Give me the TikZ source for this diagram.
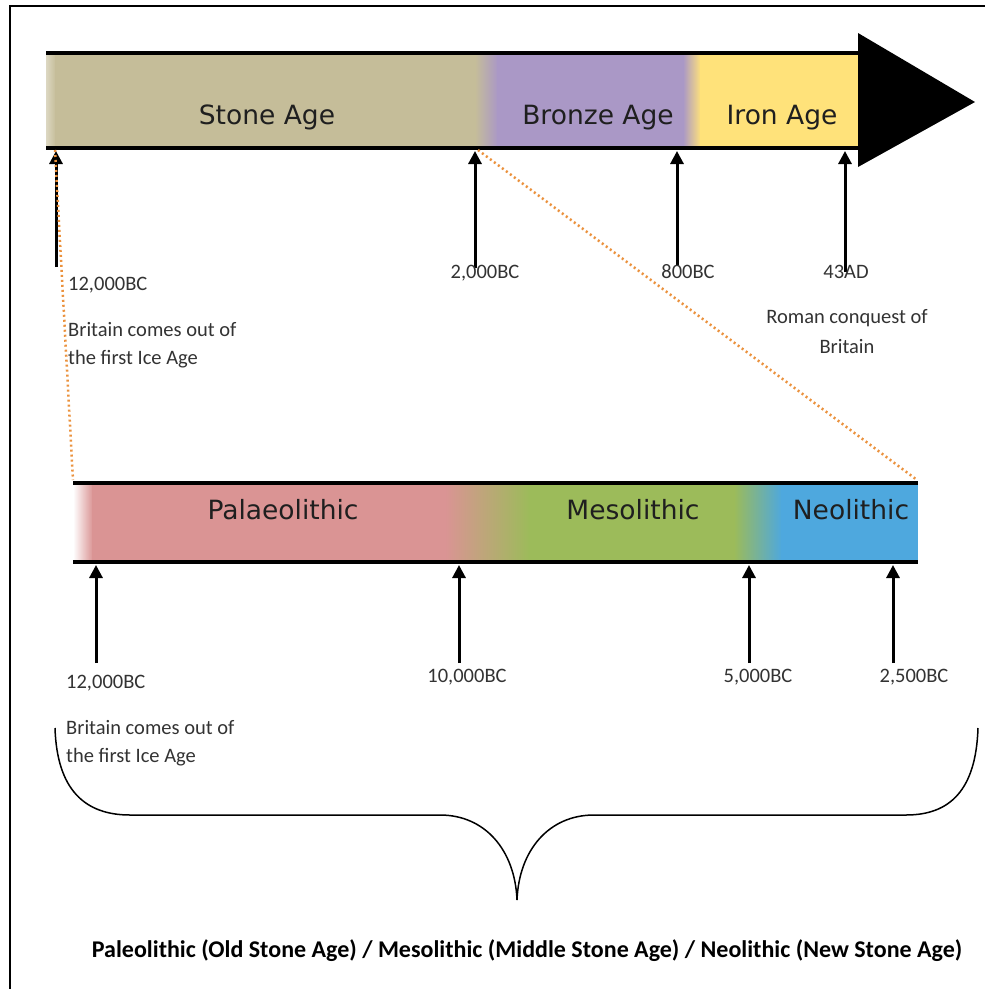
\documentclass[tikz,border=0pt]{standalone}
\usepackage{fontspec}
\setmainfont{DejaVu Sans}
\newfontfamily\calfont{Carlito}
\usetikzlibrary{arrows.meta}
\definecolor{stonec}{RGB}{197,189,153}
\definecolor{bronzec}{RGB}{170,152,198}
\definecolor{ironc}{RGB}{255,226,122}
\definecolor{palc}{RGB}{218,148,148}
\definecolor{mesoc}{RGB}{156,187,90}
\definecolor{neoc}{RGB}{78,168,222}
\definecolor{dotc}{RGB}{235,145,60}
\tikzset{
  barlabel/.style={font=\fontsize{26.5}{30}\selectfont, text=black!88, anchor=base, inner sep=0pt},
  smalllab/.style={font=\calfont\fontsize{20.5}{28}\selectfont, text=black!80, inner sep=0pt},
  uparrow/.style={line width=3pt, -{Triangle[width=13pt,length=13pt]}},
  zoomline/.style={draw=dotc, line width=2.5pt, dash pattern=on 2pt off 3pt},
  baredge/.style={line width=4pt},
  bracepath/.style={line width=1.5pt},
}
\begin{document}
\begin{tikzpicture}[x=1pt,y=-1pt]
\useasboundingbox (0,0) rectangle (985,989);
\fill[white] (0,0) rectangle (985,989);
% frame
\draw[line width=2pt] (10,989) -- (10,6) -- (985,6);

% ---- top bar ----
\shade[left color=stonec!60!white, right color=stonec] (46,53) rectangle (56,148);
\fill[stonec] (55,53) rectangle (476,148);
\shade[left color=stonec, right color=bronzec] (475,53) rectangle (498,148);
\fill[bronzec] (497,53) rectangle (684,148);
\shade[left color=bronzec, right color=ironc] (683,53) rectangle (701,148);
\fill[ironc] (700,53) rectangle (858,148);
\draw[baredge] (46,53) -- (858,53);
\draw[baredge] (46,148) -- (858,148);
\fill (858,33) -- (975,102) -- (858,167) -- cycle;

\node[barlabel] (stone) at (267,124) {Stone Age};
\node[barlabel] (bronze) at (598,124) {Bronze Age};
\node[barlabel] (iron) at (782,124) {Iron Age};

% ---- lower bar ----
\shade[left color=white, right color=palc] (73,483) rectangle (93,562);
\fill[palc] (92,483) rectangle (446,562);
\shade[left color=palc, right color=mesoc] (445,483) rectangle (530,562);
\fill[mesoc] (529,483) rectangle (735,562);
\shade[left color=mesoc, right color=neoc] (734,483) rectangle (782,562);
\fill[neoc] (781,483) rectangle (918,562);
\draw[baredge] (73,483) -- (918,483);
\draw[baredge] (73,562) -- (918,562);

\node[barlabel] (palaeo) at (283,519) {Palaeolithic};
\node[barlabel] (meso) at (633,519) {Mesolithic};
\node[barlabel] (neo) at (851,519) {Neolithic};

% ---- top arrows ----
\coordinate (ta1) at (56,267);  \coordinate (tt1) at (56,151);
\coordinate (ta2) at (475,268); \coordinate (tt2) at (475,151);
\coordinate (ta3) at (677,266); \coordinate (tt3) at (677,151);
\coordinate (ta4) at (845,272); \coordinate (tt4) at (845,151);
\draw[uparrow] (ta1) -- (tt1);
\draw[uparrow] (ta2) -- (tt2);
\draw[uparrow] (ta3) -- (tt3);
\draw[uparrow] (ta4) -- (tt4);

% ---- lower arrows ----
\coordinate (la1) at (96,663);  \coordinate (lt1) at (96,565);
\coordinate (la2) at (459,663); \coordinate (lt2) at (459,565);
\coordinate (la3) at (749,663); \coordinate (lt3) at (749,565);
\coordinate (la4) at (893,663); \coordinate (lt4) at (893,565);
\draw[uparrow] (la1) -- (lt1);
\draw[uparrow] (la2) -- (lt2);
\draw[uparrow] (la3) -- (lt3);
\draw[uparrow] (la4) -- (lt4);

% ---- zoom lines ----
\coordinate (zA) at (55,150);  \coordinate (zB) at (73,480);
\coordinate (zC) at (478,150); \coordinate (zD) at (917,480);
\draw[zoomline] (zA) -- (zB);
\draw[zoomline] (zC) -- (zD);

% ---- top labels ----
\node[smalllab, anchor=base west] (t12k) at (68,290) {12,000BC};
\node[smalllab, anchor=north west, align=left] (tbrit) at (68,322) {Britain comes out of\\the first Ice Age};
\node[smalllab, anchor=base] (t2k) at (485,278) {2,000BC};
\node[smalllab, anchor=base] (t800) at (688,278) {800BC};
\node[smalllab, anchor=base] (t43) at (846,278) {43AD};
\node[smalllab, anchor=north, align=center, font=\calfont\fontsize{20.5}{30}\selectfont] (troman) at (847,309) {Roman conquest of\\Britain};

% ---- lower labels ----
\node[smalllab, anchor=base west] (l12k) at (66,688) {12,000BC};
\node[smalllab, anchor=base] (l10k) at (467,682) {10,000BC};
\node[smalllab, anchor=base] (l5k) at (758,682) {5,000BC};
\node[smalllab, anchor=base] (l25) at (914,682) {2,500BC};
\node[smalllab, anchor=north west, align=left] (lbrit) at (66,720) {Britain comes out of\\the first Ice Age};

% ---- brace ----
\coordinate (bL) at (55,728);
\coordinate (bR) at (978,728);
\coordinate (bT) at (517,900);
\draw[bracepath] (bL) .. controls (57,790) and (85,815) .. (130,815)
  -- (440,815) .. controls (485,815) and (515,850) .. (bT)
  .. controls (519,850) and (549,815) .. (594,815)
  -- (906,815) .. controls (950,815) and (976,790) .. (bR);

\node[anchor=base, inner sep=0pt, font=\calfont\bfseries\fontsize{24}{28}\selectfont] (caption) at (527,957)
  {Paleolithic (Old Stone Age) / Mesolithic (Middle Stone Age) / Neolithic (New Stone Age)};
\end{tikzpicture}
\end{document}
